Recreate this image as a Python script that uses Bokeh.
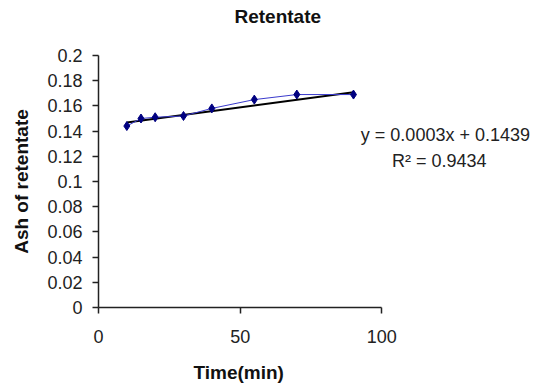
from bokeh.plotting import figure
from bokeh.models import Range1d, Label, FixedTicker, Title
from bokeh.embed import file_html
from bokeh.resources import INLINE

# data
time_min = [10, 15, 20, 30, 40, 55, 70, 90]
ash = [0.144, 0.150, 0.151, 0.152, 0.158, 0.165, 0.169, 0.169]
trend_slope = 0.0003
trend_intercept = 0.1439
r_squared = 0.9434
y_ticks = [0, 0.02, 0.04, 0.06, 0.08, 0.1, 0.12, 0.14, 0.16, 0.18, 0.2]
y_tick_labels = ["0", "0.02", "0.04", "0.06", "0.08", "0.1", "0.12", "0.14", "0.16", "0.18", "0.2"]
x_ticks = [0, 50, 100]

FONT = "Liberation Sans"

p = figure(width=536, height=385, output_backend="svg", toolbar_location=None,
           x_range=Range1d(0, 154.6), y_range=Range1d(0, 0.2),
           min_border_left=98, min_border_right=0, min_border_top=55, min_border_bottom=78)
p.outline_line_color = None
p.xgrid.grid_line_color = None
p.ygrid.grid_line_color = None
p.background_fill_color = "white"
p.border_fill_color = "white"

# trend line from equation
tx = [min(time_min), max(time_min)]
ty = [trend_slope * t + trend_intercept for t in tx]
p.line(tx, ty, line_color="black", line_width=2)

# data series
p.line(time_min, ash, line_color="#3a3acc", line_width=1)
p.scatter(time_min, ash, marker="diamond", size=9, fill_color="#000080", line_color="#000080")

for ax in (p.xaxis, p.yaxis):
    ax.axis_line_color = "#222222"
    ax.axis_line_width = 1.5
    ax.major_tick_line_color = "#222222"
    ax.major_tick_line_width = 1.5
    ax.major_tick_out = 6
    ax.major_tick_in = 0
    ax.minor_tick_line_color = None
    ax.major_label_text_font = FONT
    ax.major_label_text_font_size = "18px"
    ax.major_label_text_color = "#222222"
    ax.axis_label_text_font = FONT
    ax.axis_label_text_font_size = "19px"
    ax.axis_label_text_font_style = "bold"
    ax.axis_label_text_color = "#111111"

p.xaxis.bounds = (0, 100)
p.xaxis.ticker = FixedTicker(ticks=x_ticks)
p.yaxis.ticker = FixedTicker(ticks=y_ticks)
p.yaxis.major_label_overrides = {t: l for t, l in zip(y_ticks, y_tick_labels)}
p.xaxis.major_label_standoff = 16
p.yaxis.major_label_standoff = 10
p.yaxis.axis_label = "Ash of retentate"
p.yaxis.axis_label_standoff = 12

# spacer panels (blank) to position the titles
p.add_layout(Title(text=" ", text_font_size="1px", standoff=26), "above")
p.add_layout(Title(text="Retentate", align="left", offset=136, standoff=0,
                   text_font=FONT, text_font_size="19px", text_font_style="bold",
                   text_color="#111111"), "above")
p.add_layout(Title(text=" ", text_font_size="1px", standoff=11), "below")
p.add_layout(Title(text="Time(min)", align="left", offset=95, standoff=0,
                   text_font=FONT, text_font_size="19px", text_font_style="bold",
                   text_color="#111111"), "below")

eq = "y = %.4fx + %.4f" % (trend_slope, trend_intercept)
p.add_layout(Label(x=92.6, y=0.1373, text=eq, text_font=FONT, text_font_size="18px",
                   text_align="left", text_baseline="middle", text_color="#222222"))
p.add_layout(Label(x=103.6, y=0.1159, text="R\u00b2 = %.4f" % r_squared, text_font=FONT,
                   text_font_size="18px", text_align="left", text_baseline="middle",
                   text_color="#222222"))

open("out.html", "w").write(file_html(p, INLINE))
